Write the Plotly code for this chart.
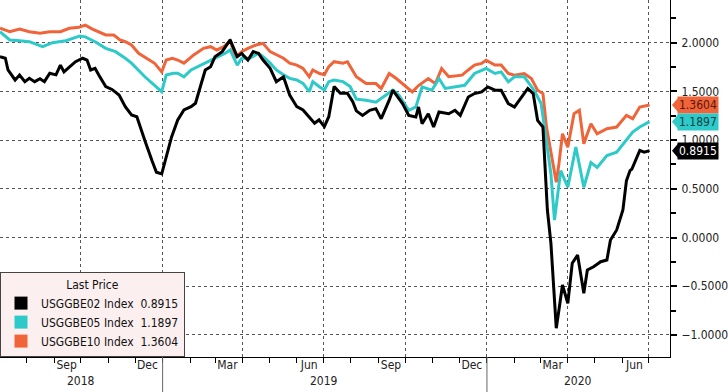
import plotly.graph_objects as go
import pandas as pd

# ---------------- data ----------------
dates_10 = ["2018-07-02","2018-07-13","2018-07-24","2018-08-04","2018-08-16","2018-08-27","2018-09-08",
            "2018-09-18","2018-09-29","2018-10-06","2018-10-14","2018-10-21","2018-10-29","2018-11-07",
            "2018-11-14","2018-11-20","2018-11-27","2018-12-05","2018-12-14","2018-12-23","2018-12-31",
            "2019-01-05","2019-01-12","2019-01-18","2019-01-25","2019-02-05","2019-02-16","2019-02-24",
            "2019-03-03","2019-03-11","2019-03-18","2019-03-24","2019-03-31","2019-04-07","2019-04-16",
            "2019-04-24","2019-05-02","2019-05-09","2019-05-17","2019-05-24","2019-06-01","2019-06-08",
            "2019-06-15","2019-06-19","2019-06-26","2019-07-02","2019-07-07","2019-07-13","2019-07-23",
            "2019-07-28","2019-08-03","2019-08-07",
            "2019-08-18","2019-08-29","2019-09-04","2019-09-13",
            "2019-09-21","2019-10-02","2019-10-09","2019-10-16","2019-10-27","2019-11-04","2019-11-11",
            "2019-11-19","2019-12-04","2019-12-11","2019-12-18","2019-12-26","2019-12-31","2020-01-10",
            "2020-01-17","2020-01-25","2020-02-01","2020-02-12","2020-02-20","2020-02-27","2020-03-04",
            "2020-03-08","2020-03-13","2020-03-19","2020-03-22","2020-03-26","2020-04-01","2020-04-08",
            "2020-04-14","2020-04-19","2020-04-27","2020-05-04","2020-05-15","2020-05-26","2020-06-06",
            "2020-06-13","2020-06-21","2020-06-28","2020-07-02"]
be10 = [2.148,2.113,2.14,2.113,2.096,2.113,2.113,
        2.148,2.158,2.18,2.14,2.113,2.079,2.079,
        2.028,2.01,1.976,1.891,1.84,1.788,1.70,
        1.822,1.84,1.822,1.79,1.874,1.942,1.959,
        1.925,1.959,2.02,1.856,1.908,1.942,1.976,
        1.993,1.908,1.874,1.84,1.79,1.77,1.737,
        1.65,1.72,1.686,1.67,1.754,1.805,1.79,
        1.805,1.72,1.65,
        1.58,1.58,1.53,1.684,
        1.632,1.546,1.495,1.56,1.632,1.58,1.735,
        1.65,1.667,1.72,1.77,1.787,1.82,1.77,
        1.77,1.684,1.667,1.684,1.632,1.512,1.478,
        1.134,0.894,0.567,0.756,1.065,0.928,1.271,
        1.306,0.962,1.168,1.065,1.117,1.134,1.254,
        1.22,1.34,1.357,1.3604]

dates_05 = ["2018-07-02","2018-07-13","2018-07-24","2018-08-04","2018-08-19","2018-08-30","2018-09-14",
            "2018-09-30","2018-10-06","2018-10-17","2018-10-29","2018-11-09","2018-11-20","2018-11-27",
            "2018-12-12","2018-12-23","2018-12-31","2019-01-05","2019-01-13","2019-01-18","2019-01-25",
            "2019-02-02","2019-02-13","2019-02-24","2019-03-05","2019-03-12","2019-03-18","2019-03-26",
            "2019-03-31","2019-04-09","2019-04-19","2019-04-24","2019-05-02","2019-05-09","2019-05-17",
            "2019-05-24","2019-06-01","2019-06-08","2019-06-15","2019-06-19","2019-06-26","2019-07-02",
            "2019-07-07","2019-07-13","2019-07-23","2019-07-31","2019-08-07",
            "2019-08-18","2019-08-29","2019-09-06","2019-09-17","2019-09-24","2019-10-05","2019-10-13",
            "2019-10-20","2019-10-31","2019-11-08","2019-11-15","2019-11-26","2019-12-07","2019-12-18",
            "2019-12-31","2020-01-10","2020-01-17","2020-01-25","2020-02-01","2020-02-12","2020-02-23",
            "2020-03-02","2020-03-08","2020-03-13","2020-03-17","2020-03-24","2020-04-01","2020-04-10",
            "2020-04-19","2020-04-27","2020-05-04","2020-05-15","2020-05-26","2020-06-06","2020-06-13",
            "2020-06-21","2020-07-02"]
be05 = [2.113,2.028,2.02,2.01,1.959,2.0,2.02,
        2.069,2.06,2.01,1.942,1.908,1.84,1.79,
        1.65,1.566,1.497,1.668,1.685,1.686,1.65,
        1.72,1.77,1.822,1.856,1.89,1.925,1.77,
        1.84,1.84,1.89,1.856,1.79,1.72,1.67,
        1.634,1.617,1.583,1.497,1.60,1.55,1.514,
        1.60,1.617,1.60,1.55,1.42,
        1.41,1.39,1.443,1.512,1.46,1.306,1.34,
        1.546,1.512,1.632,1.53,1.546,1.563,1.684,
        1.735,1.684,1.70,1.598,1.65,1.65,1.512,
        1.375,1.0,0.653,0.18,0.687,0.516,0.928,
        0.516,0.77,0.72,0.842,0.876,1.0,1.082,
        1.134,1.1897]

dates_02 = ["2018-07-02","2018-07-08","2018-07-11","2018-07-19","2018-07-24","2018-07-30","2018-08-04",
            "2018-08-10","2018-08-16","2018-08-21","2018-08-27","2018-09-03","2018-09-08","2018-09-12",
            "2018-09-18","2018-09-25","2018-10-03","2018-10-08","2018-10-12","2018-10-17","2018-10-21",
            "2018-10-29","2018-11-05","2018-11-13","2018-11-20","2018-11-27","2018-12-03","2018-12-08",
            "2018-12-12","2018-12-20","2018-12-25","2018-12-31","2019-01-04","2019-01-11","2019-01-18",
            "2019-01-25","2019-02-02","2019-02-07","2019-02-13","2019-02-18","2019-02-24","2019-03-01",
            "2019-03-09","2019-03-14","2019-03-18","2019-03-22","2019-03-26","2019-03-31","2019-04-07",
            "2019-04-13","2019-04-19","2019-04-24","2019-05-02","2019-05-09","2019-05-17","2019-05-24",
            "2019-06-01","2019-06-08","2019-06-15","2019-06-21","2019-06-26","2019-07-02","2019-07-07",
            "2019-07-13","2019-07-20","2019-07-28","2019-08-03","2019-08-07",
            "2019-08-14","2019-08-22","2019-08-29","2019-09-04","2019-09-13","2019-09-17","2019-09-28",
            "2019-10-05","2019-10-13","2019-10-16","2019-10-20","2019-10-27","2019-11-02","2019-11-08",
            "2019-11-19","2019-11-26","2019-12-02","2019-12-11","2019-12-18","2019-12-26","2020-01-02",
            "2020-01-10","2020-01-17","2020-01-25","2020-02-01","2020-02-09","2020-02-16","2020-02-22",
            "2020-02-27","2020-03-04","2020-03-09","2020-03-13","2020-03-17","2020-03-19","2020-03-22",
            "2020-03-26","2020-04-01","2020-04-06","2020-04-12","2020-04-19","2020-04-23","2020-04-30",
            "2020-05-08","2020-05-15","2020-05-19","2020-05-26","2020-06-02","2020-06-06","2020-06-10",
            "2020-06-12","2020-06-21","2020-06-26","2020-07-02"]
be02 = [1.856,1.84,1.72,1.617,1.668,1.60,1.634,
        1.60,1.63,1.60,1.686,1.67,1.77,1.70,
        1.75,1.805,1.84,1.82,1.72,1.737,1.67,
        1.55,1.52,1.463,1.343,1.258,1.24,1.10,
        0.997,0.79,0.67,0.653,0.79,1.03,1.207,
        1.31,1.343,1.378,1.566,1.72,1.754,1.856,
        1.908,1.976,2.028,1.942,1.856,1.89,1.822,
        1.908,1.89,1.822,1.737,1.60,1.65,1.463,
        1.343,1.31,1.24,1.173,1.207,1.138,1.24,
        1.55,1.48,1.48,1.395,1.30,
        1.254,1.306,1.323,1.22,1.41,1.512,1.375,
        1.254,1.237,1.34,1.168,1.271,1.134,1.289,
        1.271,1.306,1.254,1.443,1.478,1.495,1.546,
        1.512,1.512,1.375,1.34,1.443,1.53,1.478,
        1.203,1.134,0.283,-0.06,-0.64,-0.93,-0.743,
        -0.487,-0.675,-0.264,-0.18,-0.572,-0.333,-0.30,
        -0.248,-0.23,-0.025,0.078,0.283,0.584,0.687,
        0.70,0.894,0.876,0.8915]

tickers = ["USGGBE02", "USGGBE05", "USGGBE10"]
month_label_dates = ["2018-09-15","2018-12-15","2019-03-15","2019-06-15",
                     "2019-09-15","2019-12-15","2020-03-15","2020-06-15"]
month_labels = ["Sep","Dec","Mar","Jun","Sep","Dec","Mar","Jun"]
year_labels = ["2018","2019","2020"]
year_label_dates = ["2018-10-01","2019-07-02","2020-04-13"]
year_breaks = ["2019-01-01","2020-01-01"]

# ---------------- styling ----------------
C02, C05, C10 = "#000000", "#2ec9c9", "#f0643a"
FONT = "DejaVu Sans Condensed, Liberation Sans, sans-serif"
x_range = ["2018-07-02", "2020-07-25"]
y_range = [-1.226, 2.438]
PLOT_W, PLOT_H = 676, 357
quarter_starts = pd.date_range("2018-10-01", "2020-07-01", freq="QS").strftime("%Y-%m-%d").tolist()
month_starts = pd.date_range("2018-08-01", "2020-07-01", freq="MS").strftime("%Y-%m-%d").tolist()

fig = go.Figure()
series = [(tickers[2], dates_10, be10, C10),
          (tickers[1], dates_05, be05, C05),
          (tickers[0], dates_02, be02, C02)]
for name, d, v, c in series:
    fig.add_trace(go.Scatter(x=d, y=v, mode="lines", line=dict(color=c, width=3),
                             showlegend=False, hoverinfo="skip"))

# legend entries (square swatches)
for name, v, c in [(tickers[0], be02, C02), (tickers[1], be05, C05), (tickers[2], be10, C10)]:
    fig.add_trace(go.Scatter(x=[None], y=[None], xaxis="x2", mode="markers",
                             marker=dict(symbol="square", size=13, color=c),
                             name=f"{name} Index  {v[-1]:.4f}"))

# last-value tags on the right axis (arrow-shaped)
units_per_px = (y_range[1] - y_range[0]) / PLOT_H
for v, c, fc in [(be10, C10, "#5a1606"), (be05, C05, "#0b4444"), (be02, C02, "#ffffff")]:
    last = v[-1]
    fig.add_annotation(x=1, xref="paper", y=last, yref="y", xanchor="left", yanchor="middle",
                       xshift=7, text=f"{last:.4f}", showarrow=False, bgcolor=c,
                       font=dict(family=FONT, size=12, color=fc), borderpad=1)
    tip, base, h = 1 + 2 / PLOT_W, 1 + 8 / PLOT_W, 7 * units_per_px
    fig.add_shape(type="path", xref="paper", yref="y", layer="above",
                  path=f"M {tip},{last} L {base},{last + h} L {base},{last - h} Z",
                  fillcolor=c, line=dict(width=0))

for t, d in zip(year_labels, year_label_dates):
    fig.add_annotation(x=d, xref="x", y=0, yref="paper", yanchor="middle", yshift=-24,
                       text=t, showarrow=False, font=dict(family=FONT, size=12, color="#222"))
for d in year_breaks:
    fig.add_shape(type="line", xref="x", x0=d, x1=d, yref="paper", y0=0, y1=-0.11,
                  line=dict(color="#666", width=1))

grid = dict(gridcolor="#555", griddash="dot", gridwidth=1)
fig.update_layout(
    width=728, height=392,
    margin=dict(l=0, r=728 - PLOT_W, t=0, b=392 - PLOT_H),
    paper_bgcolor="white", plot_bgcolor="white",
    font=dict(family=FONT, size=12, color="#222"),
    xaxis=dict(type="date", range=x_range, tickmode="array", tickvals=quarter_starts,
               showticklabels=False, ticks="", showgrid=True, **grid,
               showline=True, linecolor="black", linewidth=1, zeroline=False,
               minor=dict(tickmode="array", tickvals=month_starts, ticks="outside",
                          ticklen=5, tickcolor="black", showgrid=False)),
    xaxis2=dict(type="date", range=x_range, overlaying="x", anchor="y", side="bottom",
                tickmode="array", tickvals=month_label_dates, ticktext=month_labels,
                ticks="", showgrid=False, showline=False, zeroline=False, ticklabelstandoff=-1,
                tickfont=dict(family=FONT, size=12, color="#222")),
    yaxis=dict(side="right", range=y_range, tick0=0, dtick=0.5, tickformat=".4f",
               showgrid=True, **grid, showline=True, linecolor="black", linewidth=1,
               ticks="outside", ticklen=6, tickwidth=2, tickcolor="black", zeroline=False,
               ticklabelstandoff=2,
               minor=dict(dtick=0.25, ticks="outside", ticklen=5, tickcolor="black", showgrid=False),
               tickfont=dict(family=FONT, size=12, color="#222")),
    legend=dict(x=0, y=0, xanchor="left", yanchor="bottom", bgcolor="#fcefef",
                bordercolor="#444", borderwidth=1, tracegroupgap=0,
                title=dict(text="Last Price", side="top center", font=dict(size=12)),
                font=dict(family=FONT, size=12, color="#111")),
    showlegend=True,
)

fig.write_html("out.html", config={"displayModeBar": False},
               post_script="document.body.style.margin='0px';")
